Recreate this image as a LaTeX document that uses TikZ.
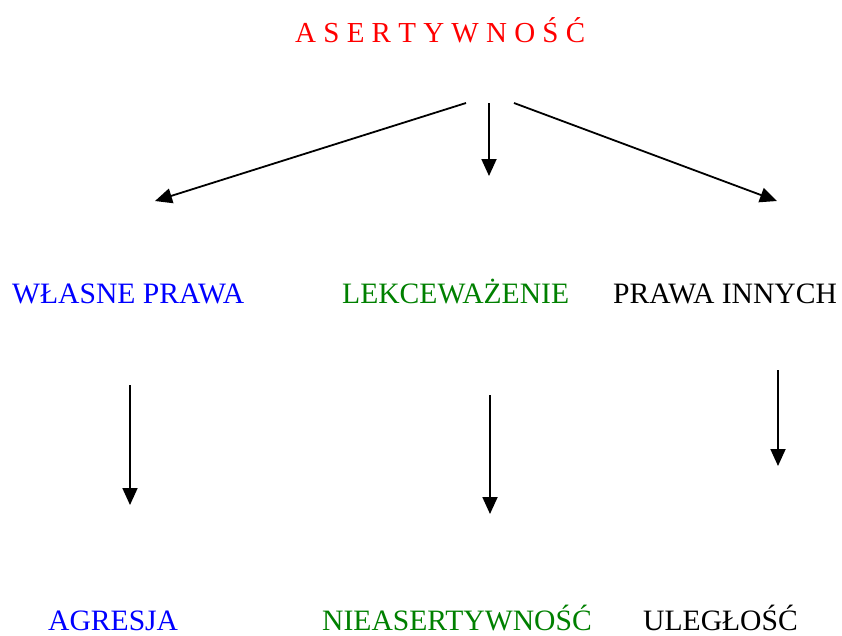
\documentclass[tikz,border=0pt]{standalone}
\usepackage{fontspec}
\setmainfont{Liberation Serif}
\usetikzlibrary{arrows.meta}
\definecolor{htmlgreen}{RGB}{0,128,0}
\begin{document}
\begin{tikzpicture}[x=1pt,y=-1pt,
  label/.style={anchor=base west,inner sep=0pt,font=\fontsize{29.6}{35}\selectfont},
  link/.style={line width=1.8pt,-{Triangle[length=17pt,width=15pt]}}]
\useasboundingbox (0,0) rectangle (842,635);

% headings
\node[label,text=red,font=\fontsize{29}{35}\selectfont] (title) at (295,42) {A S E R T Y W N O Ś Ć};

\node[label,text=blue] (own) at (12,303.5) {WŁASNE PRAWA};
\node[label,text=htmlgreen] (neglect) at (342,303.5) {LEKCEWAŻENIE};
\node[label,text=black] (others) at (613,303.5) {PRAWA INNYCH};

\node[label,text=blue] (aggr) at (48,630) {AGRESJA};
\node[label,text=htmlgreen] (nonassert) at (322,630) {NIEASERTYWNOŚĆ};
\node[label,text=black] (submit) at (643,630) {ULEGŁOŚĆ};

% arrow end points
\coordinate (tL) at (466,103);
\coordinate (tM) at (489,103);
\coordinate (tR) at (514,103);
\coordinate (hL) at (155,201);
\coordinate (hM) at (489,176);
\coordinate (hR) at (777,201);

\coordinate (a1) at (130,385);
\coordinate (b1) at (130,505);
\coordinate (a2) at (490,395);
\coordinate (b2) at (490,514);
\coordinate (a3) at (778,370);
\coordinate (b3) at (778,466);

\draw[link] (tL) -- (hL);
\draw[link] (tM) -- (hM);
\draw[link] (tR) -- (hR);
\draw[link] (a1) -- (b1);
\draw[link] (a2) -- (b2);
\draw[link] (a3) -- (b3);
\end{tikzpicture}
\end{document}
